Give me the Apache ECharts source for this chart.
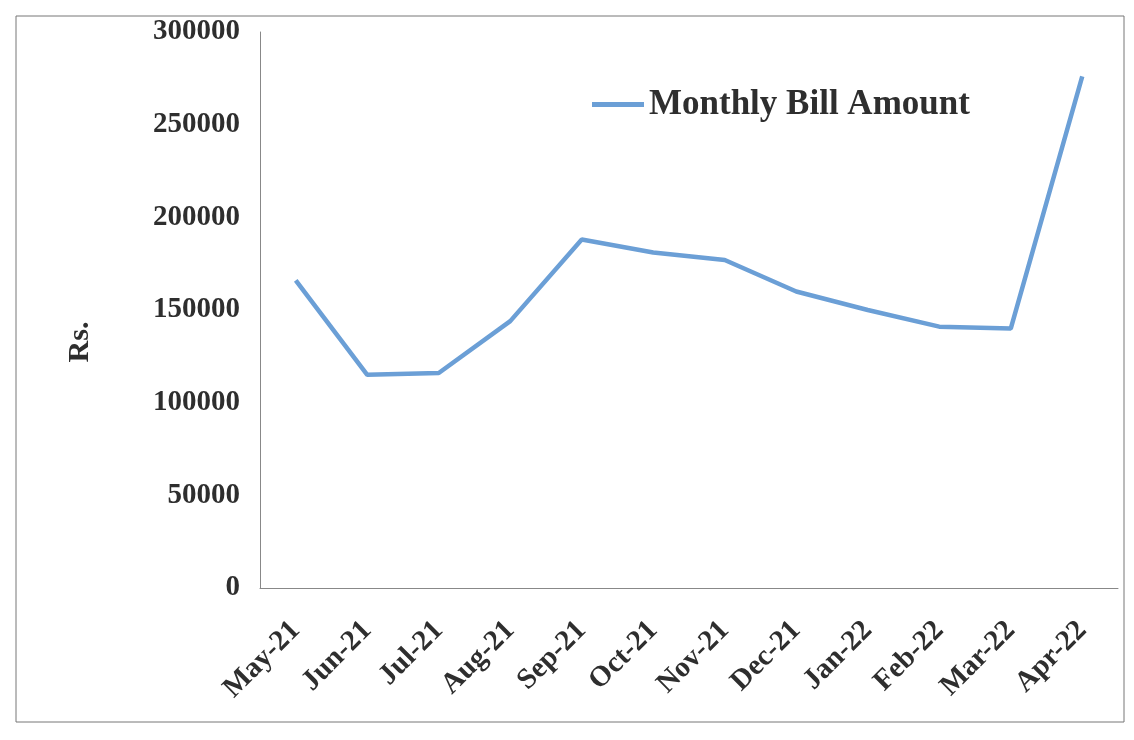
<!DOCTYPE html>
<html>
<head>
<meta charset="utf-8">
<script src="https://cdn.jsdelivr.net/npm/echarts@6/dist/echarts.min.js"></script>
<style>
html,body{margin:0;padding:0;background:#fff;}
#chart{width:1134px;height:740px;}
</style>
</head>
<body>
<div id="chart"></div>
<script>
const categories = ['May-21','Jun-21','Jul-21','Aug-21','Sep-21','Oct-21','Nov-21','Dec-21','Jan-22','Feb-22','Mar-22','Apr-22'];
const billAmount = [166000, 115000, 116000, 144000, 188000, 181000, 177000, 160000, 150000, 141000, 140000, 276000];
const seriesName = 'Monthly Bill Amount';
const yAxisName = 'Rs.';

const FONT = "'Liberation Serif','Times New Roman',serif";
const TXT = '#2e2e2e';
const chart = echarts.init(document.getElementById('chart'));
chart.setOption({
  backgroundColor: '#ffffff',
  animation: false,
  graphic: [{
    type: 'rect',
    shape: {x: 16, y: 16, width: 1108, height: 706},
    style: {fill: 'none', stroke: '#777', lineWidth: 1},
    silent: true
  }, {
    type: 'text',
    x: 80,
    y: 342,
    rotation: Math.PI / 2,
    style: {
      text: yAxisName,
      font: "bold 30px 'Liberation Serif','Times New Roman',serif",
      fill: TXT,
      align: 'center',
      verticalAlign: 'middle'
    },
    silent: true
  }],
  legend: {
    data: [seriesName],
    left: 587,
    top: 82,
    icon: 'rect',
    itemWidth: 52,
    itemHeight: 5,
    textStyle: {fontFamily: FONT, fontWeight: 'bold', fontSize: 35, color: TXT}
  },
  grid: {left: 260, right: 16, top: 32, bottom: 152, containLabel: false},
  xAxis: {
    type: 'category',
    data: categories,
    boundaryGap: true,
    axisLine: {show: true, lineStyle: {color: '#888', width: 1}},
    axisTick: {show: false},
    axisLabel: {rotate: 45, margin: 38, interval: 0, fontFamily: FONT, fontWeight: 'bold', fontSize: 29, color: TXT},
    splitLine: {show: false}
  },
  yAxis: {
    type: 'value',
    min: 0,
    max: 300000,
    interval: 50000,
    axisLine: {show: true, lineStyle: {color: '#888', width: 1}},
    axisTick: {show: false},
    axisLabel: {margin: 20, fontFamily: FONT, fontWeight: 'bold', fontSize: 29, color: TXT, formatter: function (v) { return String(v); }},
    splitLine: {show: false}
  },
  series: [{
    name: seriesName,
    type: 'line',
    data: billAmount,
    symbol: 'none',
    smooth: false,
    lineStyle: {color: '#6b9fd6', width: 4.5},
    itemStyle: {color: '#6b9fd6'}
  }]
});
</script>
</body>
</html>
